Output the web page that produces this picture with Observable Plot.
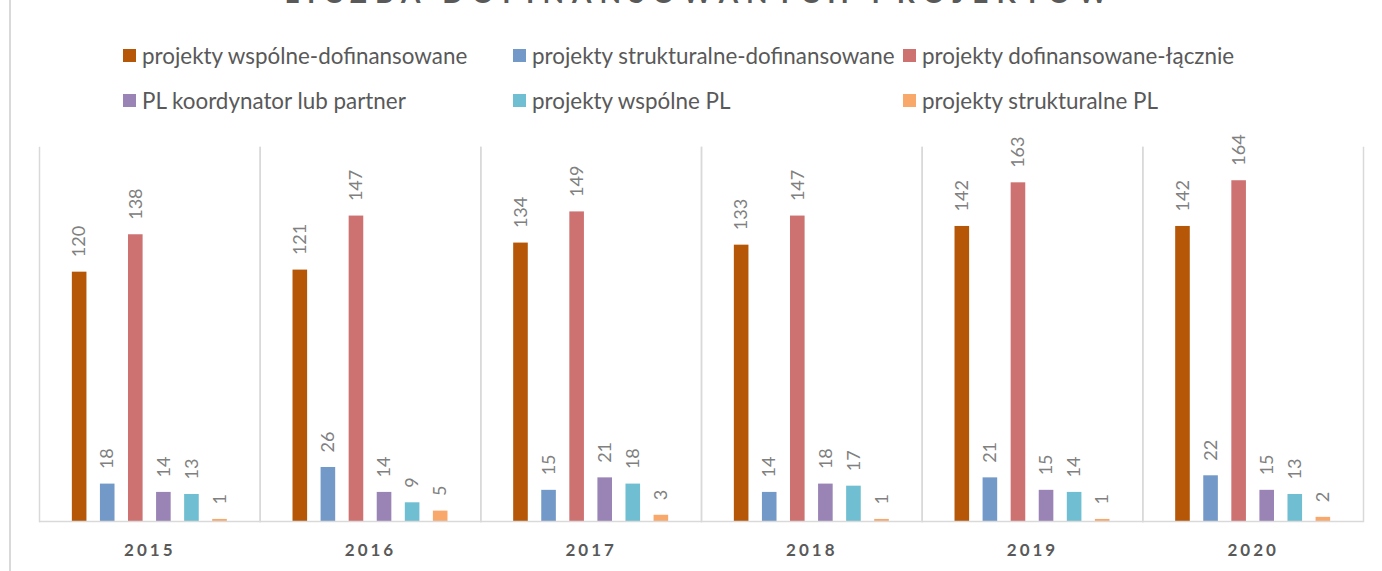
<!DOCTYPE html>
<html>
<head>
<meta charset="utf-8">
<script src="https://cdn.jsdelivr.net/npm/d3@7"></script>
<script src="https://cdn.jsdelivr.net/npm/@observablehq/plot@0.6"></script>
<style>
  html, body { margin: 0; padding: 0; background: #fff; overflow: hidden; }
  #wrap { position: relative; width: 1382px; height: 571px; font-family: Lato, "Open Sans", sans-serif; }
  #frame-left { position: absolute; left: 9px; top: 0; width: 2px; height: 571px; background: #d9d9d9; }
  #title { position: absolute; left: 0; width: 1400px; top: -22px; text-align: center; font-size: 28px; line-height: 28px;
           font-weight: bold; color: #595959; letter-spacing: 8px; white-space: nowrap; }
  #legend { position: absolute; left: 123px; top: 41px; display: grid; grid-template-columns: repeat(3, 390px);
            grid-auto-rows: 45px; font-size: 22.4px; color: #595959; }
  .item { display: flex; align-items: center; height: 28px; white-space: nowrap; }
  .sw { width: 13px; height: 13px; margin-right: 6px; flex: none; }
  #chart { position: absolute; left: 0; top: 0; }
  g[aria-label="fx-axis tick label"] text { letter-spacing: 3px; }
</style>
</head>
<body>
<div id="wrap">
  <div id="frame-left"></div>
  <div id="title"></div>
  <div id="legend"></div>
  <div id="chart"></div>
</div>
<script>
const title = "LICZBA DOFINANSOWANYCH PROJEKTÓW";
const years = ["2015", "2016", "2017", "2018", "2019", "2020"];
const series = [
  "projekty wspólne-dofinansowane",
  "projekty strukturalne-dofinansowane",
  "projekty dofinansowane-łącznie",
  "PL koordynator lub partner",
  "projekty wspólne PL",
  "projekty strukturalne PL"
];
const colors = ["#b65708", "#7399c9", "#cd7171", "#9a83b5", "#6fbed1", "#f9a86b"];
const wspolneDof = [120, 121, 134, 133, 142, 142];
const strukturalneDof = [18, 26, 15, 14, 21, 22];
const dofLacznie = [138, 147, 149, 147, 163, 164];
const plKoordynator = [14, 14, 21, 18, 15, 15];
const wspolnePL = [13, 9, 18, 17, 14, 13];
const strukturalnePL = [1, 5, 3, 1, 1, 2];
const values = [wspolneDof, strukturalneDof, dofLacznie, plKoordynator, wspolnePL, strukturalnePL];

const data = [];
years.forEach((y, i) => series.forEach((s, j) => data.push({year: y, series: s, value: values[j][i]})));

document.getElementById("title").textContent = title;
const legend = document.getElementById("legend");
series.forEach((s, j) => {
  const it = document.createElement("div");
  it.className = "item";
  const sw = document.createElement("span");
  sw.className = "sw";
  sw.style.background = colors[j];
  const tx = document.createElement("span");
  tx.textContent = s;
  it.appendChild(sw); it.appendChild(tx);
  legend.appendChild(it);
});

const chart = Plot.plot({
  width: 1382,
  height: 571,
  marginLeft: 39,
  marginRight: 19,
  marginTop: 147,
  marginBottom: 50,
  style: {fontFamily: "Lato, 'Open Sans', sans-serif", background: "transparent"},
  fx: {domain: years, paddingInner: 0, paddingOuter: 0, round: false},
  x: {domain: series, paddingInner: 0.48, paddingOuter: 1.17, round: false, axis: null},
  y: {domain: [0, 180], axis: null},
  color: {domain: series, range: colors},
  marks: [
    Plot.frame({anchor: "left", stroke: "#d9d9d9", strokeWidth: 1.5}),
    Plot.frame({anchor: "right", stroke: "#d9d9d9", strokeWidth: 1.5}),
    Plot.barY(data, {fx: "year", x: "series", y: "value", fill: "series"}),
    Plot.ruleY([0], {stroke: "#d9d9d9", strokeWidth: 1.5}),
    Plot.text(data, {fx: "year", x: "series", y: "value", text: d => String(d.value),
      rotate: -90, textAnchor: "start", lineAnchor: "middle", dy: -15, fontSize: 18, fill: "#808080"}),
    Plot.axisFx({anchor: "bottom", tickSize: 0, tickPadding: 22, fontSize: 17, fontWeight: "bold",
      fill: "#595959", label: null})
  ]
});
document.getElementById("chart").appendChild(chart);
</script>
</body>
</html>
